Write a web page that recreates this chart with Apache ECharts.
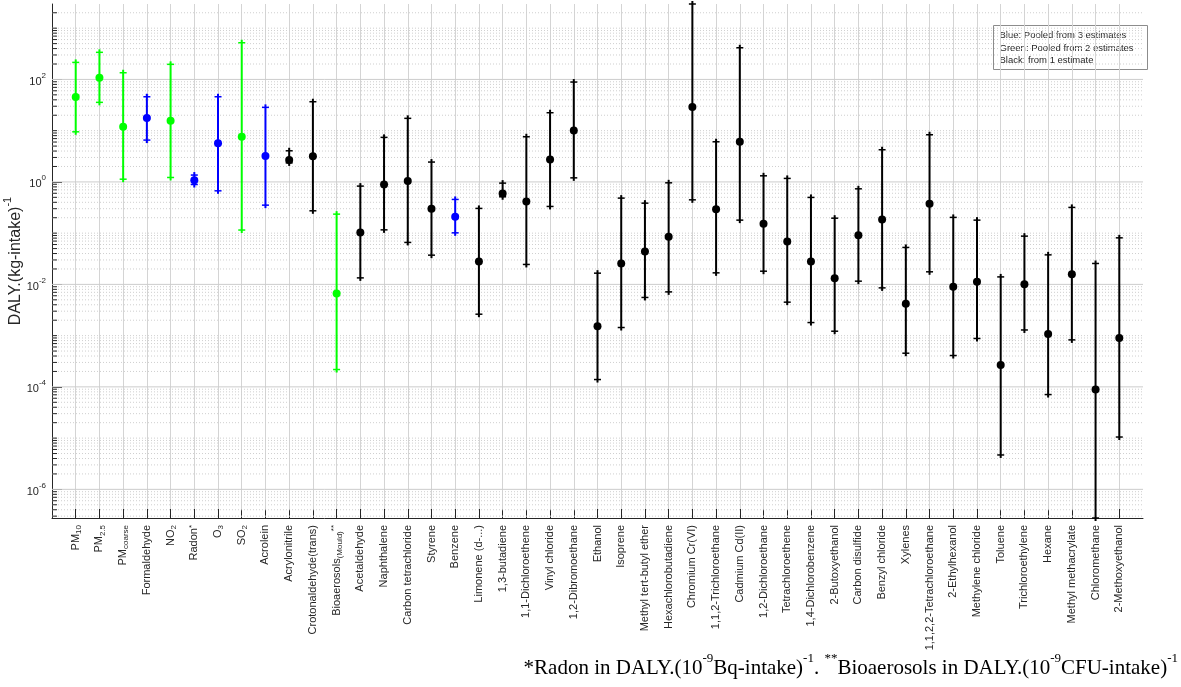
<!DOCTYPE html>
<html><head><meta charset="utf-8">
<script src="https://cdn.jsdelivr.net/npm/echarts@6/dist/echarts.min.js"></script>
<style>html,body{margin:0;padding:0;background:#fff}#c{width:1181px;height:687px}</style>
</head><body><div id="c"></div>
<script>
const categories = ['PM10','PM2.5','PMcoarse','Formaldehyde','NO2','Radon*','O3','SO2','Acrolein','Acrylonitrile','Crotonaldehyde(trans)','Bioaerosols(Mould)**','Acetaldehyde','Naphthalene','Carbon tetrachloride','Styrene','Benzene','Limonene (d-...)','1,3-butadiene','1,1-Dichloroethene','Vinyl chloride','1,2-Dibromoethane','Ethanol','Isoprene','Methyl tert-butyl ether','Hexachlorobutadiene','Chromium Cr(VI)','1,1,2-Trichloroethane','Cadmium Cd(II)','1,2-Dichloroethane','Tetrachloroethene','1,4-Dichlorobenzene','2-Butoxyethanol','Carbon disulfide','Benzyl chloride','Xylenes','1,1,2,2-Tetrachloroethane','2-Ethylhexanol','Methylene chloride','Toluene','Trichloroethylene','Hexane','Methyl methacrylate','Chloromethane','2-Methoxyethanol'];
// number of pooled estimates (3 = blue, 2 = green, 1 = black)
const pooledEstimates = [2,2,2,3,2,3,3,2,3,1,1,2,1,1,1,1,3,1,1,1,1,1,1,1,1,1,1,1,1,1,1,1,1,1,1,1,1,1,1,1,1,1,1,1,1];
const central = [45.3,108,11.9,17.6,15.6,1.08,5.65,7.6,3.19,2.67,3.15,0.00665,0.103,0.893,1.04,0.298,0.208,0.028,0.596,0.416,2.75,10.1,0.00153,0.0256,0.0439,0.0848,28.9,0.294,6.07,0.152,0.0689,0.028,0.0132,0.0914,0.185,0.00417,0.373,0.00895,0.0112,0.000268,0.0101,0.00108,0.0158,0.0000887,0.000903];
const lower = [9.5,35.7,1.13,6.55,1.22,0.89,0.67,0.115,0.352,2.35,0.273,0.000218,0.0134,0.116,0.0659,0.0372,0.1014,0.00262,0.513,0.0245,0.332,1.2,0.000139,0.00144,0.00556,0.00714,0.447,0.0168,0.1795,0.0181,0.0045,0.0018,0.00122,0.01156,0.00855,0.000454,0.0176,0.000409,0.00088,0.00000469,0.00129,0.0000708,0.000826,0.000000276,0.0000105];
const upper = [215,338,135,45.9,197,1.36,45.9,520,28.5,4.05,36.7,0.235,0.828,7.4,17.4,2.44,0.455,0.304,0.947,7.6,22.4,88.9,0.01656,0.483,0.385,0.96,2965,6.07,415,1.315,1.17,0.498,0.196,0.733,4.24,0.0526,8.32,0.203,0.1795,0.014,0.0874,0.0377,0.318,0.0256,0.081];
const yTickValues = [1e-6,1e-4,1e-2,1,1e2];
const yMin = 2.76e-7, yMax = 2965;
const legendLines = ['Blue: Pooled from 3 estimates','Green: Pooled from 2 estimates','Black: from 1 estimate'];

const groupColor = {3:'#0000ff',2:'#00ff00',1:'#000000'};
const richLabel = {
  'PM10':'{t|PM}{sub|10}','PM2.5':'{t|PM}{sub|2.5}','PMcoarse':'{t|PM}{sub|coarse}',
  'NO2':'{t|NO}{sub|2}','O3':'{t|O}{sub|3}','SO2':'{t|SO}{sub|2}',
  'Radon*':'{t|Radon}{sup|*}','Bioaerosols(Mould)**':'{t|Bioaerosols}{sub|(Mould)}{sup|**}'
};
const xData = [''].concat(categories, ['']);

// minor grid values (2..9 x 10^k and odd decades)
const minorVals = [];
for (let k = -7; k <= 3; k++) for (let m = 1; m <= 9; m++) {
  const v = m * Math.pow(10, k);
  if (m === 1 && k % 2 === 0) continue;
  if (v > yMin && v < yMax) minorVals.push(v);
}
const gridData = minorVals.map(v => [0, v, 0]).concat(yTickValues.map(v => [0, v, 1]));

const ebData = categories.map((c, i) => [i + 1, lower[i], central[i], upper[i], pooledEstimates[i]]);

const chart = echarts.init(document.getElementById('c'), null, {renderer: 'canvas'});
const FONT = '"Liberation Sans", Arial, sans-serif';
const AX = '#262626';
chart.setOption({
  animation: false,
  backgroundColor: '#ffffff',
  grid: {left: 52, right: 38, top: 4, bottom: 169, containLabel: false, outerBoundsMode: 'none'},
  xAxis: {
    type: 'category', data: xData, boundaryGap: false,
    axisLine: {lineStyle: {color: AX, width: 1}},
    axisTick: {inside: true, length: 9, interval: (i, v) => v !== '', lineStyle: {color: AX}},
    splitLine: {show: true, interval: (i, v) => v !== '', lineStyle: {color: '#d4d4d4', width: 1}},
    axisLabel: {
      interval: 0, rotate: 90, margin: 7, color: AX, fontFamily: FONT, fontSize: 11,
      formatter: v => richLabel[v] || (v ? '{t|' + v + '}' : ''),
      rich: {
        t: {fontSize: 11, fontFamily: FONT, color: AX, lineHeight: 14, verticalAlign: 'middle'},
        sub: {fontSize: 8, fontFamily: FONT, color: AX, lineHeight: 14, verticalAlign: 'bottom'},
        sup: {fontSize: 8, fontFamily: FONT, color: AX, lineHeight: 14, verticalAlign: 'top'}
      }
    }
  },
  yAxis: {
    type: 'log', logBase: 10, min: yMin, max: yMax,
    axisLine: {show: true, lineStyle: {color: AX, width: 1}},
    axisTick: {show: true, inside: true, length: 10, customValues: yTickValues, lineStyle: {color: AX}},
    splitLine: {show: false},
    axisLabel: {
      customValues: yTickValues, margin: 6, color: AX,
      formatter: v => '{b|10}{e|' + Math.round(Math.log10(v)) + '}',
      rich: {
        b: {fontSize: 11, fontFamily: FONT, color: AX, lineHeight: 16, verticalAlign: 'bottom'},
        e: {fontSize: 8, fontFamily: FONT, color: AX, lineHeight: 16, verticalAlign: 'top'}
      }
    },
    name: '{a|DALY.(kg-intake)}{s|-1}', nameLocation: 'middle', nameRotate: 90, nameGap: 28,
    nameMoveOverlap: false,
    nameTextStyle: {
      rich: {
        a: {fontSize: 16, fontFamily: FONT, color: AX, lineHeight: 22, verticalAlign: 'bottom'},
        s: {fontSize: 11, fontFamily: FONT, color: AX, lineHeight: 22, verticalAlign: 'top'}
      }
    }
  },
  series: [
    {
      type: 'custom', silent: true, z: 1, clip: true,
      data: gridData,
      renderItem: (params, api) => {
        const cs = params.coordSys;
        const y = api.coord([0, api.value(1)])[1];
        const major = api.value(2) === 1;
        const children = [{
          type: 'line',
          shape: {x1: cs.x, y1: y, x2: cs.x + cs.width, y2: y},
          style: major ? {stroke: '#cccccc', lineWidth: 1} : {stroke: '#cfcfcf', lineWidth: 1, lineDash: [1, 2]}
        }];
        if (!major) children.push({
          type: 'line', shape: {x1: cs.x, y1: y, x2: cs.x + 5, y2: y},
          style: {stroke: AX, lineWidth: 1}
        });
        return {type: 'group', children};
      }
    },
    {
      type: 'custom', z: 5, clip: false,
      data: ebData,
      renderItem: (params, api) => {
        const x = api.value(0);
        const lo = api.coord([x, api.value(1)]);
        const mi = api.coord([x, api.value(2)]);
        const hi = api.coord([x, api.value(3)]);
        const col = groupColor[api.value(4)];
        const px = mi[0];
        return {type: 'group', children: [
          {type: 'line', shape: {x1: px, y1: hi[1] - 3, x2: px, y2: lo[1] + 3}, style: {stroke: col, lineWidth: 2}},
          {type: 'line', shape: {x1: px - 3.5, y1: hi[1], x2: px + 3.5, y2: hi[1]}, style: {stroke: col, lineWidth: 1.5}},
          {type: 'line', shape: {x1: px - 3.5, y1: lo[1], x2: px + 3.5, y2: lo[1]}, style: {stroke: col, lineWidth: 1.5}},
          {type: 'circle', shape: {cx: px, cy: mi[1], r: 4}, style: {fill: col}}
        ]};
      }
    }
  ],
  graphic: [
    {
      type: 'group', left: 993, top: 25, children: [
        {type: 'rect', shape: {x: 0, y: 0, width: 154, height: 44}, style: {fill: '#ffffff', stroke: '#8c8c8c', lineWidth: 1}},
        ...legendLines.map((t, i) => ({
          type: 'text', x: 6, y: 5 + i * 12.5,
          style: {text: t, fontSize: 9.5, fontFamily: FONT, fill: AX}
        }))
      ]
    },
    {
      type: 'text', right: 3, top: 652,
      style: {
        text: '{n|*Radon in DALY.(10}{p|-9}{n|Bq-intake)}{p|-1}{n|. }{p|**}{n|Bioaerosols in DALY.(10}{p|-9}{n|CFU-intake)}{p|-1}',
        rich: {
          n: {fontSize: 21, fontFamily: '"Liberation Serif", "Times New Roman", serif', fill: '#000', lineHeight: 27, verticalAlign: 'bottom'},
          p: {fontSize: 13, fontFamily: '"Liberation Serif", "Times New Roman", serif', fill: '#000', lineHeight: 27, verticalAlign: 'top'}
        }
      }
    }
  ]
});
</script></body></html>
